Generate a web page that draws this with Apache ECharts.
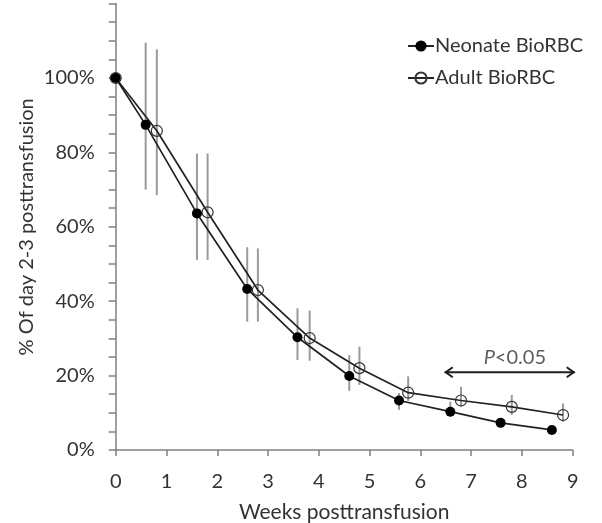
<!DOCTYPE html>
<html>
<head>
<meta charset="utf-8">
<script src="https://cdn.jsdelivr.net/npm/echarts@6/dist/echarts.min.js"></script>
<style>html,body{margin:0;padding:0;background:#fff;}#c{width:602px;height:523px;}</style>
</head>
<body>
<div id="c"></div>
<script>
// Data (weeks posttransfusion, % of day 2-3)
var neonateX = [0, 0.59, 1.6, 2.59, 3.58, 4.6, 5.58, 6.59, 7.58, 8.59];
var neonateY = [100, 87.4, 63.6, 43.3, 30.3, 19.9, 13.3, 10.3, 7.3, 5.4];
var neonateLow = [null, 70, 51.1, 34.5, 24.2, 15.9, 10.8, 9.0, 6.5, 4.6];
var neonateHigh = [null, 109.5, 79.7, 54.5, 38.1, 25.5, 15.3, 13.0, 8.3, 6.3];

var adultX = [0, 0.81, 1.81, 2.8, 3.82, 4.8, 5.76, 6.8, 7.8, 8.81];
var adultY = [100, 85.8, 63.9, 43.0, 30.1, 22.0, 15.4, 13.3, 11.6, 9.4];
var adultLow = [null, 68.5, 51.1, 34.5, 24.0, 17.5, 13.2, 11.6, 9.4, 7.6];
var adultHigh = [null, 107.7, 79.7, 54.2, 37.5, 27.8, 19.8, 17.0, 14.8, 12.5];

var xTicks = [0, 1, 2, 3, 4, 5, 6, 7, 8, 9];
var yTickLabels = [0, 20, 40, 60, 80, 100];

// Annotation: significance arrow (x from, x to, y) and label
var arrowSpan = [6.48, 9.04, 20.9];
var pLabelPos = [7.86, 24.8];

var FONT = 'Lato, "Open Sans", sans-serif';
var TXT = '#333';
var FS = 20;

function pairs(xs, ys) { return xs.map(function (x, i) { return [x, ys[i]]; }); }
function bars(xs, lo, hi) {
  var out = [];
  xs.forEach(function (x, i) { if (lo[i] != null) out.push([x, lo[i], hi[i]]); });
  return out;
}
function errRender(params, api) {
  var p1 = api.coord([api.value(0), api.value(1)]);
  var p2 = api.coord([api.value(0), api.value(2)]);
  return { type: 'line', shape: { x1: p1[0], y1: p1[1], x2: p2[0], y2: p2[1] },
    style: { stroke: '#9a9a9a', lineWidth: 2 } };
}
function arrowRender(params, api) {
  var a = api.coord([api.value(0), api.value(2)]);
  var b = api.coord([api.value(1), api.value(2)]);
  var st = { stroke: '#1e1e1e', lineWidth: 2, fill: null };
  return { type: 'group', children: [
    { type: 'line', shape: { x1: a[0], y1: a[1], x2: b[0], y2: b[1] }, style: st },
    { type: 'polyline', shape: { points: [[a[0] + 8, a[1] - 5], [a[0] + 1, a[1]], [a[0] + 8, a[1] + 5]] }, style: st },
    { type: 'polyline', shape: { points: [[b[0] - 8, b[1] - 5], [b[0] - 1, b[1]], [b[0] - 8, b[1] + 5]] }, style: st }
  ] };
}

var chart = echarts.init(document.getElementById('c'), null, { renderer: 'canvas' });
chart.setOption({
  animation: false,
  backgroundColor: '#fff',
  textStyle: { fontFamily: FONT },
  grid: { left: 115.7, right: 29.3, top: 3.6, bottom: 73, containLabel: false, outerBoundsMode: 'none' },
  legend: {
    orient: 'vertical', left: 407, top: 36, padding: 0, itemWidth: 26, itemHeight: 14, itemGap: 12,
    textStyle: { fontFamily: FONT, fontSize: FS, color: TXT, padding: [0, 0, 0, -4] },
    data: ['Neonate BioRBC', 'Adult BioRBC']
  },
  xAxis: {
    type: 'value', min: 0, max: 9, interval: 1,
    name: 'Weeks posttransfusion', nameLocation: 'middle', nameGap: 52, nameMoveOverlap: false,
    nameTextStyle: { fontFamily: FONT, fontSize: 21, color: TXT },
    axisLine: { show: true, lineStyle: { color: '#7f7f7f', width: 1.5 } },
    axisTick: { show: true, inside: false, length: 6, lineStyle: { color: '#7f7f7f', width: 1.5 } },
    axisLabel: { fontFamily: FONT, fontSize: FS, color: TXT, margin: 22,
      formatter: function (v) { return xTicks.indexOf(v) >= 0 ? String(v) : ''; } },
    splitLine: { show: false }
  },
  yAxis: {
    type: 'value', min: 0, max: 120, interval: 5,
    name: '% Of day 2-3 posttransfusion', nameLocation: 'middle', nameGap: 79, nameMoveOverlap: false,
    nameTextStyle: { fontFamily: FONT, fontSize: FS, color: TXT },
    axisLine: { show: true, lineStyle: { color: '#7f7f7f', width: 1.5 } },
    axisTick: { show: true, inside: false, length: 7, lineStyle: { color: '#7f7f7f', width: 1.5 } },
    axisLabel: { fontFamily: FONT, fontSize: FS, color: TXT, margin: 21,
      formatter: function (v) { return yTickLabels.indexOf(v) >= 0 ? v + '%' : ''; } },
    splitLine: { show: false }
  },
  series: [
    { type: 'custom', name: 'neoErr', renderItem: errRender, data: bars(neonateX, neonateLow, neonateHigh), z: 1, silent: true },
    { type: 'custom', name: 'adErr', renderItem: errRender, data: bars(adultX, adultLow, adultHigh), z: 1, silent: true },
    {
      type: 'line', name: 'Neonate BioRBC', data: pairs(neonateX, neonateY), z: 3,
      symbol: 'circle', symbolSize: 10, showAllSymbol: true,
      lineStyle: { color: '#222', width: 1.7 },
      itemStyle: { color: '#000', borderColor: '#000', borderWidth: 0 }
    },
    {
      type: 'line', name: 'Adult BioRBC', data: pairs(adultX, adultY), z: 2,
      symbol: 'circle', symbolSize: 11, showAllSymbol: true,
      lineStyle: { color: '#222', width: 1.7 },
      itemStyle: { color: 'rgba(255,255,255,0)', borderColor: '#333', borderWidth: 1.2 }
    },
    { type: 'custom', name: 'arrow', renderItem: arrowRender, data: [arrowSpan], clip: false, z: 4, silent: true },
    {
      type: 'scatter', name: 'annot', data: [pLabelPos], symbolSize: 0, clip: false, z: 4, silent: true,
      label: { show: true, position: 'inside', formatter: '{i|P}{n|<0.05}',
        rich: { i: { fontFamily: FONT, fontStyle: 'italic', fontSize: FS, color: TXT },
                n: { fontFamily: FONT, fontSize: FS, color: TXT } } }
    }
  ]
});
</script>
</body>
</html>
